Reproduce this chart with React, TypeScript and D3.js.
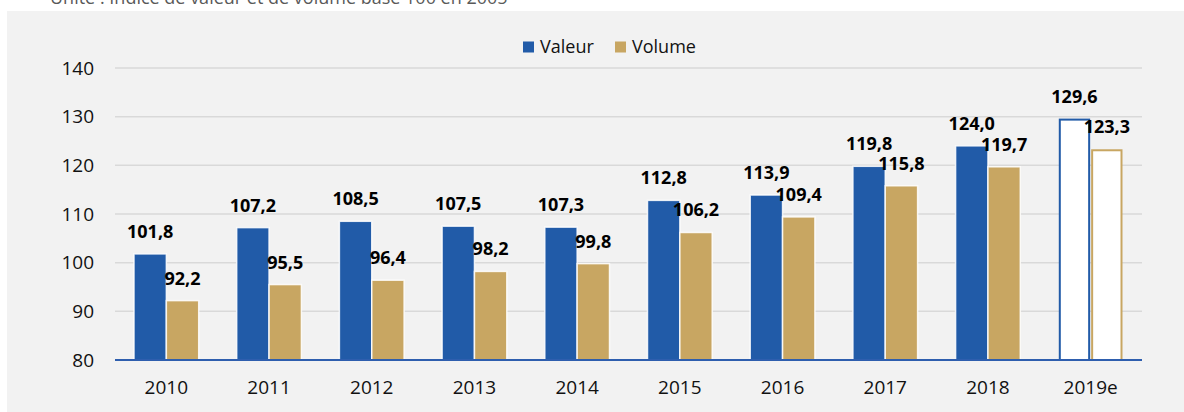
import React, { useEffect, useRef } from "react";
import * as d3 from "d3";

const years = ["2010", "2011", "2012", "2013", "2014", "2015", "2016", "2017", "2018", "2019e"];
const valeur = [101.8, 107.2, 108.5, 107.5, 107.3, 112.8, 113.9, 119.8, 124.0, 129.6];
const volume = [92.2, 95.5, 96.4, 98.2, 99.8, 106.2, 109.4, 115.8, 119.7, 123.3];
const yTicks = [80, 90, 100, 110, 120, 130, 140];
const estimated = ["2019e"];

const W = 1184;
const H = 412;
const BLUE = "#215ba8";
const GOLD = "#c8a662";
const FONT = "'Open Sans', sans-serif";

const fmt = (v: number) => v.toFixed(1).replace(".", ",");

export default function App() {
  const ref = useRef<SVGSVGElement | null>(null);

  useEffect(() => {
    const svg = d3.select(ref.current);
    svg.selectAll("*").remove();

    // panel background
    svg.append("rect").attr("x", 7).attr("y", 11).attr("width", W - 7).attr("height", H - 11).attr("fill", "#f2f2f2");

    // unit line (cut at the top, as in the source)
    svg
      .append("text")
      .attr("x", 50)
      .attr("y", 4)
      .attr("font-family", FONT)
      .attr("font-size", 18)
      .attr("fill", "#595959")
      .text("Unité : Indice de valeur et de volume base 100 en 2005");

    const x = d3.scaleBand().domain(years).range([115, 1142]);
    const y = d3.scaleLinear().domain([80, 140]).range([360, 68]);

    // grid
    svg
      .append("g")
      .selectAll("line")
      .data(yTicks.filter((t) => t > 80))
      .join("line")
      .attr("x1", 115)
      .attr("x2", 1142)
      .attr("y1", (d) => y(d))
      .attr("y2", (d) => y(d))
      .attr("stroke", "#d9d9d9")
      .attr("stroke-width", 1.5);

    // y tick labels
    svg
      .append("g")
      .selectAll("text")
      .data(yTicks)
      .join("text")
      .attr("x", 94)
      .attr("y", (d) => y(d))
      .attr("dy", "0.35em")
      .attr("text-anchor", "end")
      .attr("font-family", FONT)
      .attr("font-size", 19)
      .attr("fill", "#111")
      .text((d) => d);

    const step = x.step();
    const bw = step * 0.315;
    const center = (yr: string) => (x(yr) as number) + step / 2;
    const isEst = (yr: string) => estimated.includes(yr);

    const series = [
      { name: "Valeur", values: valeur, color: BLUE, off: -bw },
      { name: "Volume", values: volume, color: GOLD, off: 0 },
    ];

    series.forEach((s) => {
      const rows = years.map((yr, i) => ({ yr, v: s.values[i] }));

      svg
        .append("g")
        .selectAll("rect")
        .data(rows)
        .join("rect")
        .attr("x", (d) => center(d.yr) + s.off + (isEst(d.yr) ? 1.5 : 0))
        .attr("y", (d) => y(d.v) + (isEst(d.yr) ? 1 : 0))
        .attr("width", (d) => (isEst(d.yr) ? bw - 3 : bw))
        .attr("height", (d) => y(80) - y(d.v) - (isEst(d.yr) ? 1 : 0))
        .attr("fill", (d) => (isEst(d.yr) ? "#ffffff" : s.color))
        .attr("stroke", (d) => (isEst(d.yr) ? s.color : "rgba(255,255,255,0.85)"))
        .attr("stroke-width", (d) => (isEst(d.yr) ? 2 : 1.5));

      svg
        .append("g")
        .selectAll("text")
        .data(rows)
        .join("text")
        .attr("x", (d) => center(d.yr) + s.off + bw / 2)
        .attr("y", (d) => y(d.v) - 16)
        .attr("text-anchor", "middle")
        .attr("font-family", FONT)
        .attr("font-size", 18)
        .attr("font-weight", 700)
        .attr("fill", "#000")
        .text((d) => fmt(d.v));
    });

    // axis line
    svg
      .append("line")
      .attr("x1", 115)
      .attr("x2", 1142)
      .attr("y1", y(80))
      .attr("y2", y(80))
      .attr("stroke", "#2e5eae")
      .attr("stroke-width", 2);

    // year labels
    svg
      .append("g")
      .selectAll("text")
      .data(years)
      .join("text")
      .attr("x", (d) => center(d))
      .attr("y", 387)
      .attr("dy", "0.35em")
      .attr("text-anchor", "middle")
      .attr("font-family", FONT)
      .attr("font-size", 19)
      .attr("fill", "#111")
      .text((d) => d);

    // legend
    const legend = svg.append("g");
    const items = [
      { name: "Valeur", color: BLUE, x: 523 },
      { name: "Volume", color: GOLD, x: 615 },
    ];
    items.forEach((it) => {
      legend.append("rect").attr("x", it.x).attr("y", 41.5).attr("width", 11).attr("height", 11).attr("fill", it.color);
      legend
        .append("text")
        .attr("x", it.x + 17)
        .attr("y", 47)
        .attr("dy", "0.35em")
        .attr("font-family", FONT)
        .attr("font-size", 18)
        .attr("fill", "#111")
        .text(it.name);
    });
  }, []);

  return (
    <svg
      ref={ref}
      width={W}
      height={H}
      style={{ position: "absolute", left: 0, top: 0, display: "block" }}
    />
  );
}
